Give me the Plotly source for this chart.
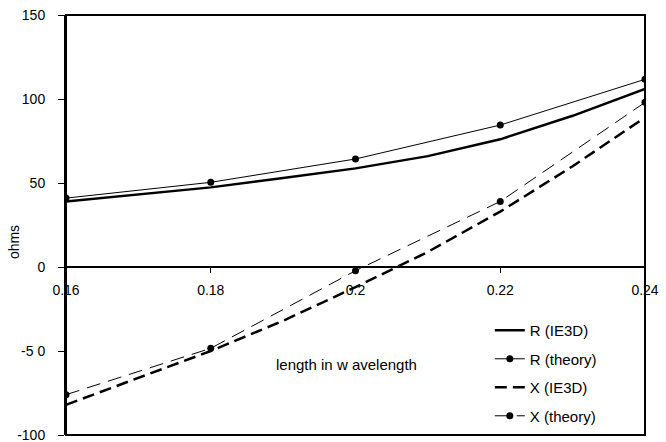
import plotly.graph_objects as go

# Data
x_ie3d = [0.16, 0.17, 0.18, 0.19, 0.20, 0.21, 0.22, 0.23, 0.24]
r_ie3d = [39, 43, 47.4, 53, 58.7, 66, 76, 90, 106]
x_ie3d_x = [-82, -66, -50, -32, -12, 9, 33, 60, 89]

x_theory = [0.16, 0.18, 0.20, 0.22, 0.24]
r_theory = [41, 50.4, 64.3, 84.5, 111.7]
x_theory_x = [-76, -48.4, -2.2, 39, 98]

x_tickvals = [0.16, 0.18, 0.20, 0.22, 0.24]
x_ticktext = ["0.16", "0.18", "0.2", "0.22", "0.24"]
y_tickvals = [150, 100, 50, 0, -50, -100]
y_ticktext = ["150", "100", "50", "0", "-5 0", "-100"]

FONT = "Liberation Sans, Arial, sans-serif"

fig = go.Figure()
fig.add_trace(go.Scatter(x=x_ie3d, y=r_ie3d, mode="lines", name="R (IE3D)",
                         line=dict(color="black", width=2.5), legendgroup="a"))
fig.add_trace(go.Scatter(x=x_theory, y=r_theory, mode="lines+markers", name="R (theory)",
                         line=dict(color="black", width=1),
                         marker=dict(color="black", size=7), legendgroup="b"))
fig.add_trace(go.Scatter(x=x_ie3d, y=x_ie3d_x, mode="lines", name="X (IE3D)",
                         line=dict(color="black", width=2.5, dash="12px,6px"), legendgroup="c"))
fig.add_trace(go.Scatter(x=x_theory, y=x_theory_x, mode="lines+markers", name="X (theory)",
                         line=dict(color="black", width=1, dash="14px,8px"),
                         marker=dict(color="black", size=7), legendgroup="d"))

fig.update_layout(
    width=666, height=442,
    margin=dict(l=66, r=21, t=15, b=7, autoexpand=False),
    paper_bgcolor="white", plot_bgcolor="white",
    font=dict(family=FONT, size=14, color="black"),
    showlegend=True,
    legend=dict(x=0.732, y=0.288, xanchor="left", yanchor="top",
                bgcolor="rgba(0,0,0,0)", font=dict(size=15),
                tracegroupgap=6),
    xaxis=dict(range=[0.16, 0.24], tickvals=x_tickvals, ticktext=x_ticktext,
               showgrid=False, zeroline=False, showline=True, linecolor="black",
               linewidth=2, ticks="outside", ticklen=5, tickwidth=1, tickcolor="black",
               anchor="free", position=0.4, ticklabelstandoff=5, automargin=False,
               ticklabeloverflow="allow", tickfont=dict(size=14)),
    yaxis=dict(range=[-100, 150], tickvals=y_tickvals, ticktext=y_ticktext,
               showgrid=False, zeroline=False, showline=True, linecolor="black",
               linewidth=2, ticks="outside", ticklen=6, tickwidth=1, tickcolor="black",
               ticklabelstandoff=10, automargin=False, ticklabeloverflow="allow",
               tickfont=dict(size=14)),
)

fig.add_shape(type="rect", xref="paper", yref="paper", x0=0, y0=0, x1=1, y1=1,
              line=dict(color="black", width=2))

fig.add_annotation(text="ohms", xref="paper", yref="paper", x=-0.091, y=0.46,
                   textangle=-90, showarrow=False, font=dict(size=14),
                   xanchor="center", yanchor="middle")
fig.add_annotation(text="length in w avelength", xref="paper", yref="paper",
                   x=0.485, y=0.167, showarrow=False, font=dict(size=15),
                   xanchor="center", yanchor="middle")

fig.write_html("out.html")
